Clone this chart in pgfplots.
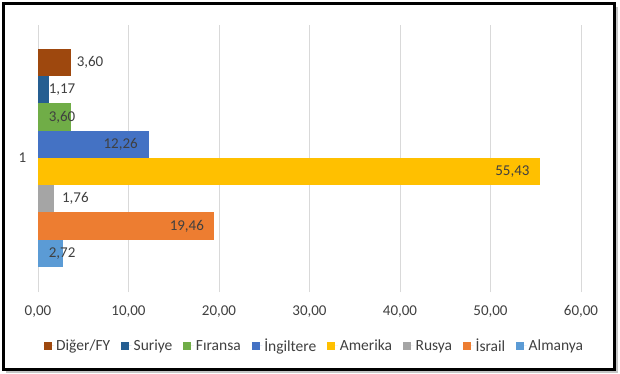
\documentclass[border=0pt]{standalone}
\usepackage{pgfplots}
\pgfplotsset{compat=1.18}
\usepackage{fontspec}
\setmainfont{Carlito}
\definecolor{cDiger}{HTML}{9E480E}
\definecolor{cSuriye}{HTML}{255E91}
\definecolor{cFransa}{HTML}{70AD47}
\definecolor{cIngiltere}{HTML}{4472C4}
\definecolor{cAmerika}{HTML}{FFC000}
\definecolor{cRusya}{HTML}{A5A5A5}
\definecolor{cIsrail}{HTML}{ED7D31}
\definecolor{cAlmanya}{HTML}{5B9BD5}
\definecolor{txt}{HTML}{404040}
\definecolor{gridc}{HTML}{D9D9D9}
\begin{document}
\begin{tikzpicture}
\useasboundingbox (0pt,0pt) rectangle (620pt,373pt);
\fill[gray!45] (6pt,0.5pt) rectangle (618pt,366pt);
\fill[white] (3.5pt,3.5pt) rectangle (614.5pt,369.5pt);
\draw[line width=3.4pt] (3.7pt,3.7pt) rectangle (614.3pt,369.3pt);
\begin{axis}[
  at={(38pt,81pt)}, anchor=south west,
  scale only axis, width=543pt, height=267pt,
  xbar, bar width=1, bar shift=0pt,
  xmin=0, xmax=60, ymin=-0.42, ymax=9.38,
  xtick={0,10,...,60},
  ytick={4.5}, yticklabels={1},
  axis line style={draw=none},
  tick style={draw=none},
  xmajorgrids=true, ymajorgrids=false,
  major grid style={draw=gridc, line width=0.8pt},
  font=\fontsize{15}{18}\selectfont,
  tick label style={text=txt},
  yticklabel style={xshift=-4pt},
  xticklabel style={yshift=-10pt},
  /pgf/number format/.cd, fixed, fixed zerofill, precision=2, use comma, assume math mode=true,
  /pgfplots/.cd,
  nodes near coords,
  nodes near coords style={text=txt, inner sep=0pt, font=\fontsize{15}{18}\selectfont},
  legend columns=8,
  legend style={draw=none, at={(0.509,-0.2022)}, anchor=center, font=\fontsize{15.5}{18}\selectfont, text=txt,
    /tikz/every even column/.append style={column sep=9pt}, cells={anchor=west}, inner sep=0pt},
  legend image code/.code={\fill[#1] (0pt,-4pt) rectangle (8pt,4pt); \path (0pt,0pt) -- (10.5pt,0pt);},
  legend cell align=left,
]
\addplot[fill=cDiger, draw=none, nodes near coords style={anchor=west, xshift=6pt}] coordinates {(3.60,8)};
\addplot[fill=cSuriye, draw=none, nodes near coords style={anchor=west, xshift=0pt}] coordinates {(1.17,7)};
\addplot[fill=cFransa, draw=none, nodes near coords style={anchor=west, xshift=-22pt}] coordinates {(3.60,6)};
\addplot[fill=cIngiltere, draw=none, nodes near coords style={anchor=east, xshift=-11pt}] coordinates {(12.26,5)};
\addplot[fill=cAmerika, draw=none, nodes near coords style={anchor=east, xshift=-10pt}] coordinates {(55.43,4)};
\addplot[fill=cRusya, draw=none, nodes near coords style={anchor=west, xshift=8pt}] coordinates {(1.76,3)};
\addplot[fill=cIsrail, draw=none, nodes near coords style={anchor=east, xshift=-10pt}] coordinates {(19.46,2)};
\addplot[fill=cAlmanya, draw=none, nodes near coords style={anchor=west, xshift=-14pt}] coordinates {(2.72,1)};
\legend{Diğer/FY, Suriye, Fıransa, İngiltere, Amerika, Rusya, İsrail, Almanya}
\end{axis}
\end{tikzpicture}
\end{document}
